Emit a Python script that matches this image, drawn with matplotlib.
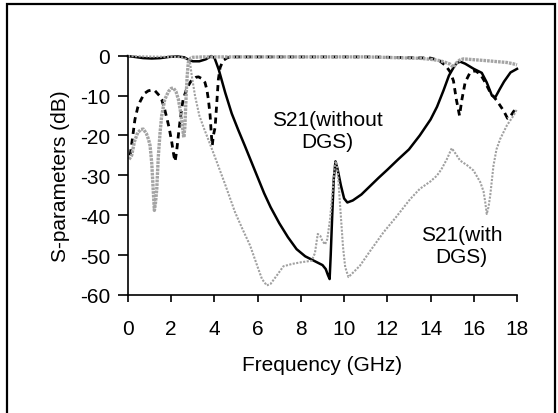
import matplotlib
matplotlib.use('Agg')
import matplotlib.pyplot as plt
from matplotlib.patches import Rectangle

plt.rcParams['font.family'] = ['Liberation Sans', 'DejaVu Sans']
plt.rcParams['axes.unicode_minus'] = False

# S21 without DGS (black solid)
f_s21 = [0.0, 0.3, 0.7, 1.1, 1.5, 1.9, 2.3, 2.6, 2.8, 3.0, 3.3, 3.6, 3.85, 4.0,
         4.2, 4.5, 4.8, 5.1, 5.4, 5.7, 6.0, 6.3, 6.6, 7.0, 7.4, 7.8, 8.2, 8.6,
         9.0, 9.15, 9.25, 9.33, 9.38, 9.45, 9.52, 9.6, 9.7, 9.85, 10.0, 10.15,
         10.4, 10.8, 11.2, 11.6, 12.0, 12.5, 13.0, 13.5, 14.0, 14.3, 14.6, 14.85,
         15.06, 15.2, 15.37, 15.6, 16.0, 16.37, 16.6, 16.84, 16.99, 17.2, 17.4,
         17.7, 18.0]
s21 = [-0.1, -0.3, -0.6, -0.7, -0.6, -0.3, -0.2, -0.4, -1.0, -1.4, -1.4, -0.9, -0.1, -0.5,
       -3.5, -9.3, -14.5, -18.6, -22.5, -26.5, -30.5, -34.5, -38, -42, -45.5, -48.5, -50.3, -51.4,
       -52.5, -53.5, -55, -56, -50, -40, -31, -26.5, -28.5, -32.5, -35.8, -36.8,
       -36.3, -34.8, -32.7, -30.6, -28.6, -26, -23.5, -20, -16, -12.8, -8.7, -5,
       -3, -1.9, -1.5, -2.0, -3.3, -4.3, -6.7, -10, -10.5, -8.4, -6.5,
       -4.2, -3.3]

# S11 without DGS (black dashed)
f_s11 = [0.1, 0.2, 0.32, 0.45, 0.56, 0.75, 0.94, 1.1, 1.25, 1.45, 1.56, 1.7, 1.79,
         1.9, 2.02, 2.12, 2.18, 2.25, 2.35, 2.45, 2.55, 2.72, 2.9, 3.02, 3.15, 3.26,
         3.4, 3.56, 3.65, 3.72, 3.8, 3.86, 3.9, 3.95, 4.03, 4.1, 4.18, 4.26, 4.4,
         4.6, 5.0, 8.0, 11.0, 14.0, 14.4, 14.7, 14.9, 15.06, 15.19, 15.34, 15.45,
         15.6, 15.83, 16.07, 16.3, 16.53, 16.76, 17.07, 17.38, 17.56, 17.7, 17.84, 18.0]
s11 = [-25, -21, -16, -13, -11.5, -9.5, -8.8, -8.6, -8.8, -10, -11, -13.5, -15.5,
       -18, -21.5, -25, -26.5, -24, -19, -14.5, -11, -8.2, -6.5, -5.9, -5.4, -5.3,
       -5.7, -6.7, -8.5, -11, -15, -20, -22.5, -20, -18, -12.5, -6, -3, -1.2,
       -0.5, -0.3, -0.3, -0.3, -0.6, -1.2, -2.5, -4.0, -6.3, -10.9, -15, -11,
       -6.7, -4.2, -3.8, -4.6, -6.7, -9.2, -11.3, -13.8, -15.7, -15.2, -14, -13.2]

# S21 with DGS (light grey, thin)
f_s21d = [0.0, 1.0, 2.0, 2.5, 2.7, 2.8, 2.87, 2.95, 3.1, 3.3, 3.5, 3.75, 4.03, 4.49,
          4.95, 5.3, 5.65, 6.0, 6.2, 6.42, 6.6, 6.9, 7.19, 7.6, 8.0, 8.5, 8.65, 8.78,
          8.9, 9.0, 9.12, 9.22, 9.35, 9.48, 9.58, 9.64, 9.72, 9.82, 9.95, 10.05, 10.2,
          10.45, 10.74, 11.2, 11.82, 12.4, 13.05, 13.5, 14.0, 14.29, 14.5, 14.75,
          14.98, 15.15, 15.37, 15.7, 15.99, 16.3, 16.45, 16.53, 16.6, 16.68, 16.76,
          16.91, 17.05, 17.22, 17.53, 17.84, 18.0]
s21d = [-0.1, -0.2, -0.3, -0.4, -0.8, -1.2, -1.7, -5, -10, -15, -18, -21.5, -25.5, -32.2,
        -39.2, -43.5, -47.6, -53, -56, -57.6, -57.2, -55, -52.8, -52.2, -51.8, -51.4, -49.5, -44.7,
        -45.2, -46.5, -47.3, -46, -41, -33, -27, -26.5, -30, -38, -48, -53, -55.5,
        -54.2, -52.6, -49, -44.3, -40.5, -36, -33.4, -31.5, -30.1, -28.5, -26,
        -23.2, -24.5, -26.3, -27.5, -28.8, -31.7, -34, -36.7, -39.7, -38, -35.1,
        -27.6, -23.5, -20.9, -17.5, -15, -13.4]

# S11 with DGS (grey, thick)
f_s11d = [0.05, 0.17, 0.3, 0.45, 0.6, 0.71, 0.85, 0.95, 1.02, 1.1, 1.17, 1.22, 1.27,
          1.33, 1.4, 1.48, 1.56, 1.7, 1.87, 2.0, 2.1, 2.22, 2.33, 2.43, 2.5, 2.58,
          2.63, 2.69, 2.74, 2.79, 2.9, 3.0, 3.5, 4.5, 8.0, 11.0, 13.5, 14.0, 14.44,
          14.75, 14.9, 15.06, 15.2, 15.35, 15.52, 16.0, 16.6, 17.1, 17.53, 17.8, 18.0]
s11d = [-26, -25, -21.5, -19.3, -18.5, -18.4, -19.5, -21, -22.5, -27, -34, -38.8, -37,
        -33.5, -25.5, -19.5, -15, -11, -9, -8.2, -8.1, -9, -10.9, -14, -17, -20.5,
        -18, -10, -5, -1.7, -0.6, -0.4, -0.3, -0.3, -0.3, -0.3, -0.65, -0.9, -1.25,
        -1.8, -2.1, -2.9, -1.8, -1.1, -0.8, -1.0, -1.25, -1.5, -1.7, -2.0, -2.3]

fig = plt.figure(figsize=(5.58, 4.14), dpi=100)
ax = fig.add_axes([128 / 558, 1 - 296 / 414, 389 / 558, 239.3 / 414])

ax.plot(f_s21, s21, color='black', lw=1.8, clip_on=False)
ax.plot(f_s11, s11, color='black', lw=2.0, linestyle=(0, (2.2, 1.7)), clip_on=False)
ax.plot(f_s21d, s21d, color='#a0a0a0', lw=1.5, linestyle=(0, (1, 0.7)), clip_on=False)
ax.plot(f_s11d, s11d, color='#a4a4a4', lw=2.4, linestyle=(0, (0.8, 0.3)), clip_on=False)

ax.set_xlim(0, 18)
ax.set_ylim(-60, 0)
ax.set_xticks(range(0, 19, 2))
ax.set_yticks(range(-60, 1, 10))
for s in ['top', 'right']:
    ax.spines[s].set_visible(False)
for s in ['left', 'bottom']:
    ax.spines[s].set_linewidth(1.2)
ax.tick_params(axis='x', direction='out', length=5, width=1.2, pad=12, labelsize=15)
ax.tick_params(axis='y', direction='out', length=7, width=1.2, pad=6, labelsize=15)

ax.set_xlabel('Frequency (GHz)', fontsize=15)
ax.set_ylabel('S-parameters (dB)', fontsize=15)
ax.xaxis.set_label_coords(0.5, -0.249)
ax.yaxis.set_label_coords(-0.15, 0.5)

ax.text(9.24, -18.8, 'S21(without\nDGS)', ha='center', va='center', fontsize=15)
ax.text(15.44, -47.6, 'S21(with\nDGS)', ha='center', va='center', fontsize=15)

# frame around the whole picture (bottom edge cut off like the original)
fig.patches.append(Rectangle((7 / 558, -0.05), 548 / 558, 1 - 5 / 414 + 0.05,
                             transform=fig.transFigure, fill=False,
                             edgecolor='black', lw=1.6))

fig.savefig('out.png', dpi=100)
